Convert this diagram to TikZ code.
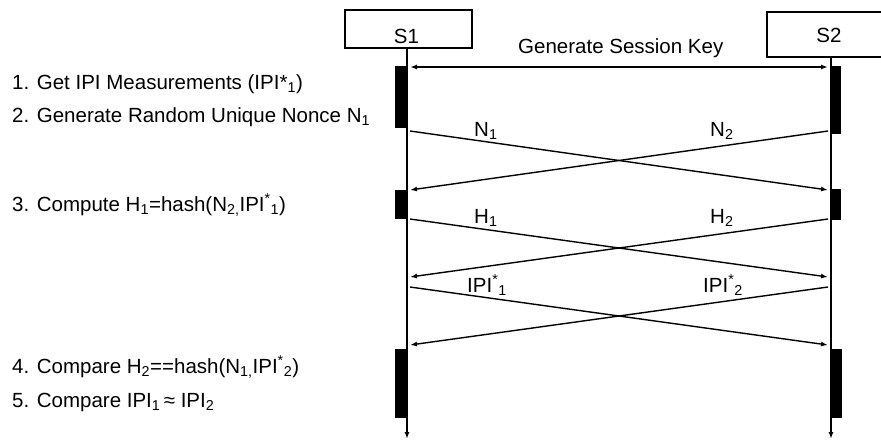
\documentclass[tikz,border=0pt]{standalone}
\usepackage{fontspec}
\setmainfont{Liberation Sans}
\usetikzlibrary{arrows.meta}
\begin{document}
\begin{tikzpicture}[x=1pt,y=-1pt,
  every node/.style={font=\fontsize{20.5}{24}\selectfont, inner sep=0pt},
  box/.style={draw, line width=1.2pt, rectangle},
  bar/.style={fill=black},
  life/.style={line width=1.6pt, -{Latex[length=7pt,width=5pt]}},
  msg/.style={line width=1.4pt, -{Latex[length=7pt,width=5pt]}},
  msgb/.style={line width=1.4pt, {Latex[length=7pt,width=5pt]}-{Latex[length=7pt,width=5pt]}},
  step text/.style={anchor=base west},
  lbl/.style={anchor=base west}]
\useasboundingbox (0,0) rectangle (881,440);
\clip (0,0) rectangle (881,440);
% participant boxes
\node[box, minimum width=127pt, minimum height=38pt] (S1) at (408.5,29) {};
\node[anchor=base] (S1t) at (406.5,43) {S1};
\node[box, minimum width=124pt, minimum height=45pt] (S2) at (829,34.5) {};
\node[anchor=base] (S2t) at (829,42) {S2};
% lifeline coordinates
\coordinate (L1top) at (407,48);
\coordinate (L1bot) at (407,439);
\coordinate (L2top) at (831,57);
\coordinate (L2bot) at (831,439);
% activation bars
\fill[bar] (395,66) rectangle (407,128);
\fill[bar] (395,190) rectangle (407,219);
\fill[bar] (395,349) rectangle (407,418);
\fill[bar] (831,66) rectangle (841,134);
\fill[bar] (831,189) rectangle (841,220);
\fill[bar] (831,349) rectangle (842,418);
% lifelines
\draw[life] (L1top) -- (L1bot);
\draw[life] (L2top) -- (L2bot);
% message endpoints
\coordinate (kA) at (410,67);   \coordinate (kB) at (828,67);
\coordinate (nA) at (410,131);  \coordinate (nB) at (828,131);
\coordinate (nC) at (410,190);  \coordinate (nD) at (828,190);
\coordinate (hA) at (410,219);  \coordinate (hB) at (828,219);
\coordinate (hC) at (410,277);  \coordinate (hD) at (828,277);
\coordinate (iA) at (410,287);  \coordinate (iB) at (828,287);
\coordinate (iC) at (410,345);  \coordinate (iD) at (828,345);
% messages
\draw[msgb] (kA) -- (kB);
\draw[msg] (nA) -- (nD);
\draw[msg] (nB) -- (nC);
\draw[msg] (hA) -- (hD);
\draw[msg] (hB) -- (hC);
\draw[msg] (iA) -- (iD);
\draw[msg] (iB) -- (iC);
% message labels
\node[lbl] (key) at (518,53) {Generate Session Key};
\node[lbl] (n1) at (474,136) {N\textsubscript{1}};
\node[lbl] (n2) at (710,136) {N\textsubscript{2}};
\node[lbl] (h1) at (474,223) {H\textsubscript{1}};
\node[lbl] (h2) at (710,223) {H\textsubscript{2}};
\node[lbl] (i1) at (467,292) {IPI\textsuperscript{*}\textsubscript{1}};
\node[lbl] (i2) at (703,292) {IPI\textsuperscript{*}\textsubscript{2}};
% step texts
\node[step text] (t1) at (12,89) {1. Get IPI Measurements (IPI*\textsubscript{1})};
\node[step text] (t2) at (12,122) {2. Generate Random Unique Nonce N\textsubscript{1}};
\node[step text] (t3) at (12,211) {3. Compute H\textsubscript{1}=hash(N\textsubscript{2,}IPI\textsuperscript{*}\textsubscript{1})};
\node[step text] (t4) at (12,373) {4. Compare H\textsubscript{2}==hash(N\textsubscript{1,}IPI\textsuperscript{*}\textsubscript{2})};
\node[step text] (t5) at (12,407) {5. Compare IPI\textsubscript{1}\,≈ IPI\textsubscript{2}};
\end{tikzpicture}
\end{document}
